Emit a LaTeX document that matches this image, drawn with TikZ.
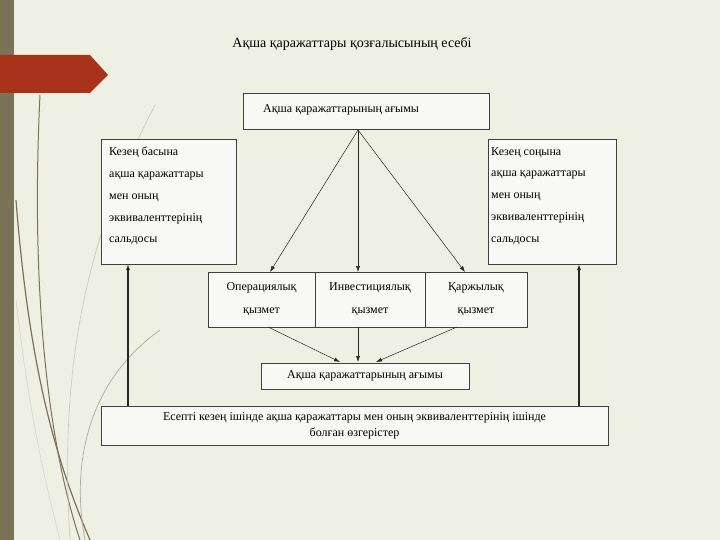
\documentclass[tikz,border=0pt]{standalone}
\usepackage{fontspec}
\setmainfont{Liberation Serif}
\usetikzlibrary{arrows.meta}
\begin{document}
\begin{tikzpicture}[x=1pt,y=-1pt,
  box/.style={draw=black!75,line width=0.6pt,fill=white!60!bgc,inner sep=0},
  txt/.style={font=\fontsize{12}{13}\selectfont,anchor=west,inner sep=0},
  arr/.style={-{Latex[length=6pt,width=4pt]},line width=0.5pt,black!85},
  thk/.style={-{Latex[length=6pt,width=4pt]},line width=1.1pt,black!85}]
\definecolor{bgc}{HTML}{EEF0E3}
\definecolor{olive}{HTML}{7A7357}
\definecolor{redc}{HTML}{A8321A}
\useasboundingbox (0,0) rectangle (720,540);
\fill[bgc] (0,0) rectangle (720,540);
\fill[olive] (0,0) rectangle (14,540);
% decorative curves
\draw[olive,line width=1.2pt] (16,200) .. controls (30,380) and (60,470) .. (90,540);
\draw[olive,line width=1pt] (40,95) .. controls (30,300) and (50,450) .. (80,540);
\draw[olive!60,line width=0.7pt] (160,330) .. controls (90,380) and (70,460) .. (85,540);
\draw[olive!40,line width=0.6pt] (155,105) .. controls (80,250) and (60,380) .. (70,540);
\draw[olive!30,line width=0.6pt] (16,300) .. controls (30,420) and (45,480) .. (60,540);
\fill[redc] (0,55) -- (90,55) -- (108,75) -- (90,93) -- (0,93) -- cycle;
\node[font=\fontsize{14}{16}\selectfont,inner sep=0] (title) at (352,44) {Ақша қаражаттары қозғалысының есебі};
% boxes
\node[box,minimum width=246,minimum height=36] (top) at (366,111) {};
\node[txt] at (263,110) {Ақша қаражаттарының ағымы};
\node[box,minimum width=135,minimum height=125] (L) at (168.5,201.5) {};
\node[txt,align=left,font=\fontsize{12}{21.8}\selectfont,anchor=north west] at (109,147) {Кезең басына\\ақша қаражаттары\\мен оның\\эквиваленттерінің\\сальдосы};
\node[box,minimum width=128,minimum height=125] (R) at (552,201.5) {};
\node[txt,align=left,font=\fontsize{12}{21.8}\selectfont,anchor=north west] at (491,147) {Кезең соңына\\ақша қаражаттары\\мен оның\\эквиваленттерінің\\сальдосы};
\node[box,minimum width=107,minimum height=55] (op) at (261.5,299.5) {};
\node[box,minimum width=110,minimum height=55] (inv) at (370,299.5) {};
\node[box,minimum width=102,minimum height=55] (fin) at (476,299.5) {};
\node[font=\fontsize{12}{23}\selectfont,align=center,inner sep=0] at (op) {Операциялық\\қызмет};
\node[font=\fontsize{12}{23}\selectfont,align=center,inner sep=0] at (inv) {Инвестициялық\\қызмет};
\node[font=\fontsize{12}{23}\selectfont,align=center,inner sep=0] at (fin) {Қаржылық\\қызмет};
\node[box,minimum width=208,minimum height=26] (flow) at (365,376) {};
\node[font=\fontsize{12}{13}\selectfont,inner sep=0] at (flow) {Ақша қаражаттарының ағымы};
\node[box,minimum width=507,minimum height=39] (bot) at (354.5,425.5) {};
\node[font=\fontsize{12}{16}\selectfont,align=center,inner sep=0] at (bot) {Есепті кезең ішінде ақша қаражаттары мен оның эквиваленттерінің ішінде\\болған өзгерістер};
% arrows
\coordinate (s) at (358,130);
\draw[arr] (s) -- (270,272);
\draw[arr] (s) -- (358,272);
\draw[arr] (s) -- (465,272);
\draw[arr] (268,327) -- (340,362);
\draw[arr] (358,327) -- (358,362);
\draw[arr] (457,327) -- (376,362);
\draw[thk] (128,406) -- (128,264);
\draw[thk] (579,406) -- (579,264);
\end{tikzpicture}
\end{document}
